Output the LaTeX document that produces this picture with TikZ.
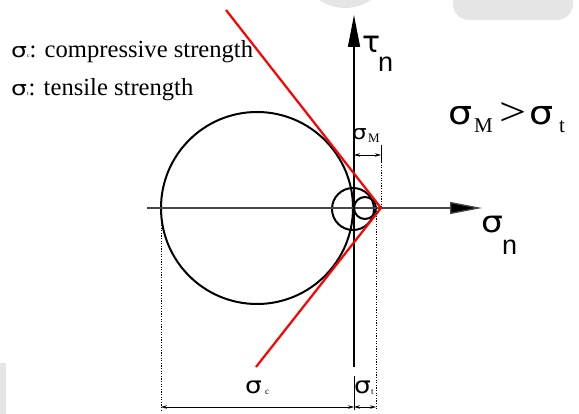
\documentclass[tikz,border=0pt]{standalone}
\usepackage{fontspec}
\usepackage{graphicx}
\setmainfont{Liberation Serif}
\setsansfont{Liberation Sans}
\newfontfamily\greekf{DejaVu Sans}
\newcommand{\wsig}{\scalebox{1.15}[1]{σ}}
\usetikzlibrary{arrows.meta}
\begin{document}
\begin{tikzpicture}[x=1pt,y=-1pt,
  axis/.style={line width=1.3pt, draw=black!72, -{Triangle[length=32pt,width=12pt,fill=black]}},
  circ/.style={line width=2pt, draw=black},
  failure/.style={line width=2.2pt, draw=red},
  dotline/.style={line width=1pt, dash pattern=on 1.3pt off 1.3pt},
  ext/.style={line width=0.8pt},
  dimarrow/.style={line width=0.8pt, {Stealth[length=6pt,width=3.5pt]}-{Stealth[length=6pt,width=3.5pt]}},
  artifact/.style={fill=black!10, draw=none},
  txt/.style={inner sep=0pt, anchor=base west},
  legend/.style={txt, font=\fontsize{24.6}{28}\selectfont\rmfamily},
  big/.style={txt, font=\fontsize{33}{33}\selectfont\greekf},
  gt/.style={txt, font=\fontsize{40}{40}\selectfont\rmfamily},
  mid/.style={txt, font=\fontsize{30}{30}\selectfont\greekf},
  sub/.style={txt, font=\fontsize{27}{27}\selectfont\sffamily},
  small/.style={txt, font=\fontsize{23}{23}\selectfont\greekf},
  subserif/.style={txt, font=\fontsize{21}{21}\selectfont\rmfamily},
  tinyserif/.style={txt, font=\fontsize{9}{9}\selectfont\rmfamily}
]
\useasboundingbox (0,0) rectangle (579,414);
\clip (0,0) rectangle (579,414);

% faint background artifacts
\fill[artifact] (345,-30) ellipse [x radius=42, y radius=38];
\fill[artifact, rounded corners=16pt] (453,-30) rectangle (573,20);
\fill[artifact] (0,363) rectangle (6,414);

% coordinates
\coordinate (O) at (354,208);
\coordinate (hl) at (147,208);
\coordinate (hr) at (482,208);
\coordinate (vb) at (354,367);
\coordinate (vt) at (354,15);
\coordinate (apex) at (381,208);
\coordinate (rtop) at (226,10);
\coordinate (rbot) at (256,367);

% circles
\node[circ, circle, minimum size=192pt, inner sep=0pt] (bigc) at (257,208) {};
\node[circ, circle, minimum size=42pt, inner sep=0pt] (midc) at (353,209) {};
\node[circ, circle, minimum size=22pt, inner sep=0pt] (smallc) at (365,208) {};

% axes
\draw[axis] (hl) -- (hr);
\draw[axis, draw=black] (vb) -- (vt);

% failure envelope
\draw[failure] (rtop) -- (apex) -- (rbot);

% dotted and extension lines
\coordinate (lc1) at (161,212);
\coordinate (lc2) at (161,410);
\coordinate (lt1) at (376,208);
\coordinate (lt2) at (376,410);
\coordinate (lm0) at (381,145);
\coordinate (lm1) at (381,162);
\coordinate (sep1) at (354,376);
\coordinate (sep2) at (354,410);
\draw[dotline] (lc1) -- (lc2);
\draw[dotline] (lt1) -- (lt2);
\draw[ext] (lm0) -- (lm1);
\draw[dotline] (lm1) -- (apex);
\draw[ext] (sep1) -- (sep2);

% dimension arrows
\coordinate (dc1) at (161,407);
\coordinate (dc2) at (354,407);
\coordinate (dt2) at (376,407);
\coordinate (dm1) at (354,155);
\coordinate (dm2) at (381,155);
\draw[dimarrow] (dc1) -- (dc2);
\draw[dimarrow] (dc2) -- (dt2);
\draw[dimarrow] (dm1) -- (dm2);

% legend
\node[legend] (legc) at (11,58) {{\greekf\fontsize{20}{20}\selectfont\scalebox{1.25}[1]{σ}}{\fontsize{6}{6}\selectfont c}: compressive strength};
\node[legend] (legt) at (11,96) {{\greekf\fontsize{20}{20}\selectfont\scalebox{1.25}[1]{σ}}{\fontsize{6}{6}\selectfont t}: tensile strength};

% axis labels
\node[mid] (tau) at (362,53) {τ};
\node[sub] (taun) at (378,72) {n};
\node[mid] (sig) at (481,233) {\wsig};
\node[sub] (sign) at (502,255) {n};

% criterion
\node[big] (crit1) at (448,125) {\wsig};
\node[subserif] (critM) at (474,133) {M};
\node[gt] (critgt) at (499,126) {\scalebox{1.2}[1]{>}};
\node[big] (crit2) at (529,125) {\wsig};
\node[subserif] (critt) at (559,133) {t};

% dimension labels
\node[small] (lsc) at (245,393) {\wsig};
\node[tinyserif] (lscs) at (265,395) {c};
\node[small] (lst) at (354,393) {\wsig};
\node[tinyserif] (lsts) at (371,395) {t};
\node[txt, font=\fontsize{20}{20}\selectfont\greekf] (lsm) at (352,140) {\wsig};
\node[txt, font=\fontsize{13}{13}\selectfont\rmfamily] (lsms) at (368,143) {M};
\end{tikzpicture}
\end{document}
